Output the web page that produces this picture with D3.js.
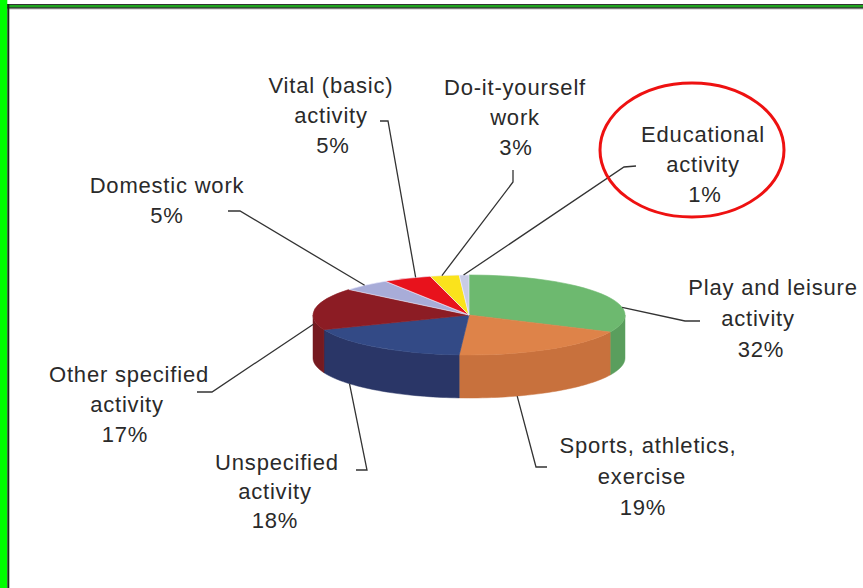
<!DOCTYPE html>
<html>
<head>
<meta charset="utf-8">
<script src="https://cdn.jsdelivr.net/npm/d3@7"></script>
<style>
  html, body { margin: 0; padding: 0; background: #fff; }
  svg { display: block; }
</style>
</head>
<body>
<svg id="chart" width="863" height="588"></svg>
<script>
// data
var categories = ["Play and leisure activity", "Sports, athletics, exercise", "Unspecified activity",
  "Other specified activity", "Domestic work", "Vital (basic) activity", "Do-it-yourself work", "Educational activity"];
var shares = [32, 19, 18, 17, 5, 5, 3, 1];
var labelText = [
  ["Play and leisure", "activity"],
  ["Sports, athletics,", "exercise"],
  ["Unspecified", "activity"],
  ["Other specified", "activity"],
  ["Domestic work"],
  ["Vital (basic)", "activity"],
  ["Do-it-yourself", "work"],
  ["Educational", "activity"]
];
var topColors = ["#6db96f", "#de8349", "#334a86", "#8c1c24", "#a8acd8", "#e8121c", "#fae31c", "#c9cce6"];
var sideColors = ["#5a9e5d", "#c8713d", "#2a3667", "#761a20", "#8e92bd", "#c00f17", "#d9c518", "#aeb1cc"];

// layout of the labels (x per line, first baseline, leader elbow points, anchor on pie)
var layout = [
  { xs: [773, 758, 761], y: 295, step: 31, pts: [[700, 321], [685, 321]], anchor: { a: 79, d: 0 } },
  { xs: [648, 642, 643], y: 453, step: 31, pts: [[547, 467], [536, 467]], anchor: { a: 162, d: 1 } },
  { xs: [277, 275, 275], y: 470, step: 29, pts: [[356, 470], [367, 470]], anchor: { a: 230, d: 1 } },
  { xs: [129, 127, 125], y: 382, step: 30, pts: [[197, 392], [212, 392]], anchor: { a: 266, d: 0.15 } },
  { xs: [167, 167], y: 193, step: 30, pts: [[228, 211], [240, 211]], anchor: { a: 318, d: 0 } },
  { xs: [331, 331, 333], y: 93, step: 30, pts: [[380, 121], [388, 121]], anchor: { a: 340, d: 0 } },
  { xs: [515, 515, 516], y: 95, step: 30, pts: [[513, 170], [513, 182]], anchor: { a: 350, d: 0 } },
  { xs: [703, 703, 705], y: 142, step: 30, pts: [[636, 166], [624, 167]], anchor: { a: 358, d: 0 } }
];

var svg = d3.select("#chart");

// frame
svg.append("rect").attr("x", 5).attr("y", 4).attr("width", 858).attr("height", 5).attr("fill", "#333");
svg.append("rect").attr("x", 5).attr("y", 5).attr("width", 858).attr("height", 2.3).attr("fill", "#1fa51f");
svg.append("rect").attr("x", 5).attr("y", 8.3).attr("width", 858).attr("height", 1).attr("fill", "#999");
svg.append("rect").attr("x", 0).attr("y", 0).attr("width", 7.3).attr("height", 588).attr("fill", "#00ff00");
svg.append("rect").attr("x", 7.3).attr("y", 4).attr("width", 2).attr("height", 584).attr("fill", "#1a2a1a");

// pie geometry
var cx = 469, cy = 315, rx = 156, ry = 40, depth = 43;
var pie = d3.pie().sort(null).value(function (d) { return d; });
var arcs = pie(shares);

function proj(a, d) {
  return [cx + rx * Math.sin(a), cy - ry * Math.cos(a) + d * depth];
}

var line = d3.line();

// sides (front half only)
var sideG = svg.append("g");
arcs.forEach(function (s, i) {
  var s0 = Math.max(s.startAngle, Math.PI / 2);
  var s1 = Math.min(s.endAngle, Math.PI * 1.5);
  if (s0 >= s1) return;
  var n = 40;
  var pts = [];
  d3.range(n + 1).forEach(function (k) { pts.push(proj(s0 + (s1 - s0) * k / n, 0)); });
  d3.range(n + 1).forEach(function (k) { pts.push(proj(s1 - (s1 - s0) * k / n, 1)); });
  sideG.append("path")
    .attr("d", line(pts) + "Z")
    .attr("fill", sideColors[i])
    .attr("stroke", sideColors[i])
    .attr("stroke-width", 0.5);
});

// top faces
var arc = d3.arc().innerRadius(0).outerRadius(rx);
var topG = svg.append("g").attr("transform", "translate(" + cx + "," + cy + ") scale(1," + (ry / rx) + ")");
topG.selectAll("path")
  .data(arcs)
  .enter()
  .append("path")
  .attr("d", arc)
  .attr("fill", function (d, i) { return topColors[i]; })
  .attr("stroke", function (d, i) { return i >= 4 ? "#eef" : topColors[i]; })
  .attr("stroke-width", 0.6)
  .attr("vector-effect", "non-scaling-stroke");

// leader lines
layout.forEach(function (L, i) {
  var end = proj(L.anchor.a * Math.PI / 180, L.anchor.d);
  svg.append("path")
    .attr("d", line(L.pts.concat([end])))
    .attr("fill", "none")
    .attr("stroke", "#333")
    .attr("stroke-width", 1.3);
});

// labels
layout.forEach(function (L, i) {
  var lines = labelText[i].concat([shares[i] + "%"]);
  lines.forEach(function (t, k) {
    svg.append("text")
      .attr("x", L.xs[k])
      .attr("y", L.y + k * L.step)
      .attr("text-anchor", "middle")
      .attr("font-family", "Liberation Sans, Arial, sans-serif")
      .attr("font-size", "22px")
      .attr("letter-spacing", "0.8px")
      .attr("fill", "#2a2a2a")
      .text(t);
  });
});

// highlight circle around the educational label
svg.append("ellipse")
  .attr("cx", 692)
  .attr("cy", 150)
  .attr("rx", 92)
  .attr("ry", 67)
  .attr("fill", "none")
  .attr("stroke", "#ee1111")
  .attr("stroke-width", 3);
</script>
</body>
</html>
